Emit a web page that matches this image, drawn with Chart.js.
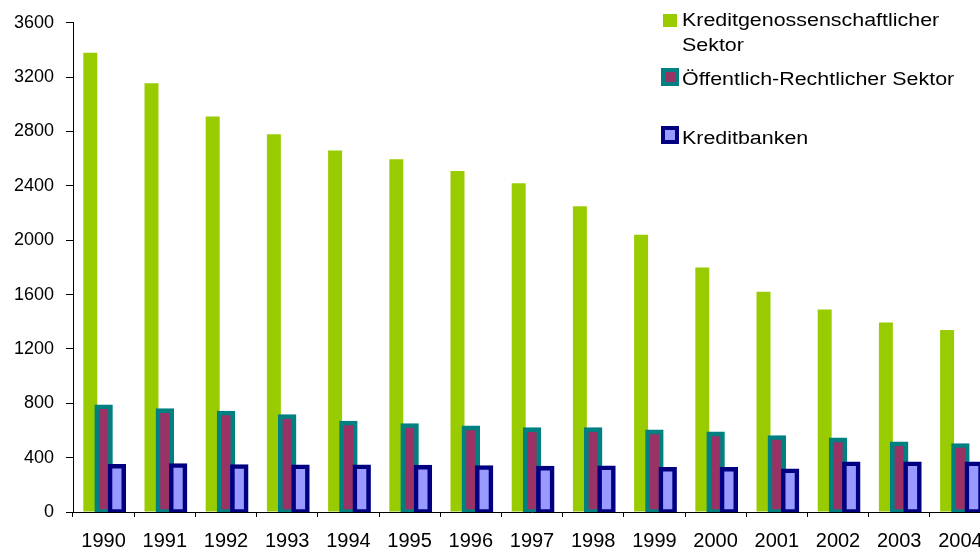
<!DOCTYPE html>
<html>
<head>
<meta charset="utf-8">
<script src="https://cdn.jsdelivr.net/npm/chart.js@4/dist/chart.umd.min.js"></script>
<style>
  html, body { margin: 0; padding: 0; overflow: hidden; background: #fff; width: 980px; height: 554px; }
  #wrap { position: absolute; left: 0; top: 0; width: 1000px; height: 554px; }
  .lg { position: absolute; font-family: "Liberation Sans", Arial, sans-serif; font-size: 18px; line-height: 25px; color: #000; white-space: nowrap; transform: scaleX(1.19); transform-origin: 0 0; }
  .sw { position: absolute; box-sizing: border-box; }
</style>
</head>
<body>
<div id="wrap"><canvas id="c" width="1000" height="554"></canvas></div>
<div class="sw" style="left:663px;top:14px;width:14px;height:13px;background:#99CC00;"></div>
<div class="lg" style="left:682px;top:8px;">Kreditgenossenschaftlicher<br>Sektor</div>
<div class="sw" style="left:661px;top:68px;width:18px;height:18px;background:#993366;border:4.5px solid #008080;"></div>
<div class="lg" style="left:682px;top:67px;">Öffentlich-Rechtlicher Sektor</div>
<div class="sw" style="left:661px;top:126px;width:18px;height:18px;background:#9999FF;border:4.5px solid #000080;"></div>
<div class="lg" style="left:682px;top:126px;">Kreditbanken</div>
<script>
const years = ["1990","1991","1992","1993","1994","1995","1996","1997","1998","1999","2000","2001","2002","2003","2004"];
const kreditgenossen = [3380, 3155, 2910, 2780, 2660, 2595, 2510, 2420, 2250, 2040, 1800, 1620, 1490, 1395, 1340];
const oeffentlich = [775, 746, 729, 702, 655, 636, 619, 606, 606, 590, 575, 548, 531, 502, 489];
const kreditbanken = [337, 342, 335, 333, 333, 330, 328, 323, 326, 315, 315, 304, 355, 355, 355];
const yTicks = [0, 400, 800, 1200, 1600, 2000, 2400, 2800, 3200, 3600];

// draw datasets in index order so later series lie on top of earlier ones
const drawOrderPlugin = {
  id: 'drawOrder',
  beforeDatasetsDraw(chart) {
    const ctx = chart.ctx, a = chart.chartArea;
    for (let i = 0; i < chart.data.datasets.length; i++) {
      const meta = chart.getDatasetMeta(i);
      if (!meta.visible) continue;
      ctx.save();
      ctx.beginPath();
      ctx.rect(0, 0, chart.width, a.bottom);
      ctx.clip();
      meta.controller.draw();
      ctx.restore();
    }
    return false;
  }
};

new Chart(document.getElementById('c'), {
  type: 'bar',
  data: {
    labels: years,
    datasets: [
      { label: 'Kreditgenossenschaftlicher Sektor', data: kreditgenossen, backgroundColor: '#99CC00', borderWidth: 0,
        barPercentage: 1.05, categoryPercentage: 0.652, inflateAmount: 0 },
      { label: 'Öffentlich-Rechtlicher Sektor', data: oeffentlich, backgroundColor: '#993366', borderColor: '#008080', borderWidth: 4.6,
        borderSkipped: false, barPercentage: 1.04, categoryPercentage: 0.652, inflateAmount: 2.3 },
      { label: 'Kreditbanken', data: kreditbanken, backgroundColor: '#9999FF', borderColor: '#000080', borderWidth: 4.6,
        borderSkipped: false, barPercentage: 1.04, categoryPercentage: 0.652, inflateAmount: 2.3 }
    ]
  },
  plugins: [drawOrderPlugin],
  options: {
    responsive: false,
    animation: false,
    devicePixelRatio: 1,
    layout: { padding: { left: 0, right: 9, top: 21, bottom: 0 } },
    plugins: { legend: { display: false }, tooltip: { enabled: false } },
    scales: {
      x: {
        offset: true,
        grid: { offset: true, drawOnChartArea: false, drawTicks: true, tickLength: 5, color: '#000' },
        border: { display: true, color: '#000', width: 1 },
        ticks: { color: '#000', padding: 12, maxRotation: 0, autoSkip: false,
                 font: { family: '"Liberation Sans", Arial, sans-serif', size: 20 } },
        afterFit: (s) => { s.height = 42; }
      },
      y: {
        min: 0, max: 3600,
        afterBuildTicks: (s) => { s.ticks = yTicks.map(v => ({ value: v })); },
        grid: { drawOnChartArea: false, drawTicks: true, tickLength: 7, color: '#000' },
        border: { display: true, color: '#000', width: 1 },
        ticks: { color: '#000', padding: 12, callback: (v) => String(v),
                 font: { family: '"Liberation Sans", Arial, sans-serif', size: 18 } },
        afterFit: (s) => { s.width = 73; }
      }
    }
  }
});
</script>
</body>
</html>
